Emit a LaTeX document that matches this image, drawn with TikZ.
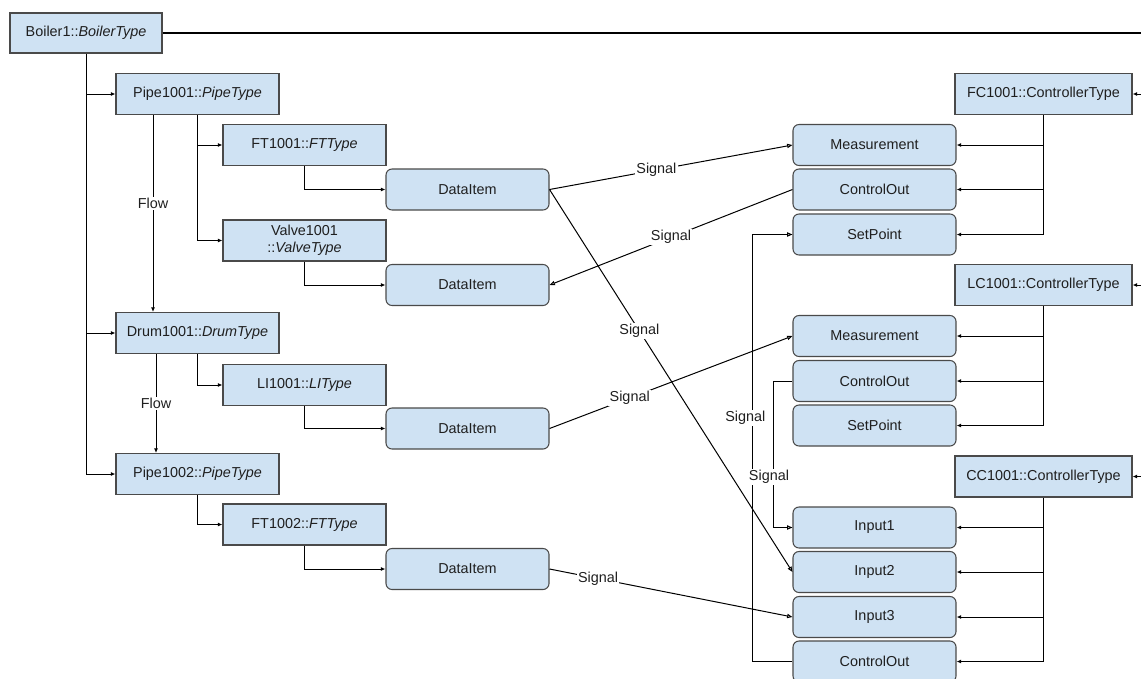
\documentclass[tikz,border=0pt]{standalone}
\usepackage{fontspec}
\setmainfont{Liberation Sans}
\usetikzlibrary{arrows.meta}
\definecolor{boxfill}{HTML}{CFE2F3}
\definecolor{boxline}{HTML}{4A4A4A}
\definecolor{inktext}{HTML}{1F1F1F}
\begin{document}
\begin{tikzpicture}[x=0.75pt,y=-0.75pt,
  font=\fontsize{10.8}{12.6}\selectfont, text=inktext,
  objbox/.style={draw=boxline, fill=boxfill, line width=0.8pt, inner sep=0pt,
    minimum width=122.25pt, minimum height=30.75pt, align=center},
  ctrlbox/.style={objbox, minimum width=132.75pt},
  portbox/.style={objbox, rounded corners=4.5pt},
  link/.style={line width=0.75pt, draw=black, -{Latex[length=3.5pt,width=3pt]}},
  plain/.style={line width=0.75pt, draw=black},
  sig/.style={line width=0.75pt, draw=black, -{Triangle[open,length=4pt,width=3.2pt]}},
  lbl/.style={fill=white, inner sep=1pt, text=inktext}]
\useasboundingbox (0,0) rectangle (1141,678);
\clip (0,0) rectangle (1141,678);

% plant hierarchy
\node[objbox, minimum width=114pt, minimum height=30pt] (boiler) at (86,33) {Boiler1::\textit{BoilerType}};
\node[objbox] (pipeA) at (197.5,94) {Pipe1001::\textit{PipeType}};
\node[objbox] (ftA) at (304.5,145) {FT1001::\textit{FTType}};
\node[objbox] (valve) at (304.5,240.5) {Valve1001\\::\textit{ValveType}};
\node[objbox] (drum) at (197.5,333) {Drum1001::\textit{DrumType}};
\node[objbox] (li) at (304.5,385) {LI1001::\textit{LIType}};
\node[objbox] (pipeB) at (197.5,474) {Pipe1002::\textit{PipeType}};
\node[objbox] (ftB) at (304.5,524.5) {FT1002::\textit{FTType}};

% data items
\node[portbox] (diA) at (467.5,189.5) {DataItem};
\node[portbox] (diB) at (467.5,285) {DataItem};
\node[portbox] (diC) at (467.5,428.5) {DataItem};
\node[portbox] (diD) at (467.5,569) {DataItem};

% controllers and their ports
\node[ctrlbox] (fc) at (1043.5,94) {FC1001::ControllerType};
\node[portbox] (fcM) at (874.5,145) {Measurement};
\node[portbox] (fcO) at (874.5,189.5) {ControlOut};
\node[portbox] (fcS) at (874.5,234.5) {SetPoint};

\node[ctrlbox] (lc) at (1043.5,285) {LC1001::ControllerType};
\node[portbox] (lcM) at (874.5,336) {Measurement};
\node[portbox] (lcO) at (874.5,381) {ControlOut};
\node[portbox] (lcS) at (874.5,425.5) {SetPoint};

\node[ctrlbox] (cc) at (1043.5,476.5) {CC1001::ControllerType};
\node[portbox] (ccA) at (874.5,527.5) {Input1};
\node[portbox] (ccB) at (874.5,572) {Input2};
\node[portbox] (ccC) at (874.5,617) {Input3};
\node[portbox] (ccO) at (874.5,661.5) {ControlOut};

% helper coordinates
\coordinate (edgeTop) at (1141,33);
\coordinate (edgeFC) at (1141,94);
\coordinate (edgeLC) at (1141,285);
\coordinate (edgeCC) at (1141,476.5);
\coordinate (trunk) at (86,0);
\coordinate (flowA) at (153,0);
\coordinate (flowB) at (156,0);
\coordinate (busA) at (752,0);
\coordinate (busB) at (773,0);

% boiler trunk and links leaving the page edge
\draw[plain, line width=1.1pt] (boiler.east) -- (edgeTop);
\draw[link] (edgeFC) -- (fc.east);
\draw[link] (edgeLC) -- (lc.east);
\draw[link] (edgeCC) -- (cc.east);

\draw[link] (boiler.south) |- (pipeB.west);
\draw[link] (trunk |- pipeA.west) -- (pipeA.west);
\draw[link] (trunk |- drum.west) -- (drum.west);

% flow between equipment
\draw[link] (flowA |- pipeA.south) -- node[lbl, pos=0.45] {Flow} (flowA |- drum.north);
\draw[link] (flowB |- drum.south) -- node[lbl, pos=0.5] {Flow} (flowB |- pipeB.north);

% containment
\draw[link] (pipeA.south) |- (ftA.west);
\draw[link] (pipeA.south) |- (valve.west);
\draw[link] (drum.south) |- (li.west);
\draw[link] (pipeB.south) |- (ftB.west);
\draw[link] (ftA.south) |- (diA.west);
\draw[link] (valve.south) |- (diB.west);
\draw[link] (li.south) |- (diC.west);
\draw[link] (ftB.south) |- (diD.west);

% controller ports
\draw[link] (fc.south) |- (fcS.east);
\draw[link] (fc.south |- fcM.east) -- (fcM.east);
\draw[link] (fc.south |- fcO.east) -- (fcO.east);
\draw[link] (lc.south) |- (lcS.east);
\draw[link] (lc.south |- lcM.east) -- (lcM.east);
\draw[link] (lc.south |- lcO.east) -- (lcO.east);
\draw[link] (cc.south) |- (ccO.east);
\draw[link] (cc.south |- ccA.east) -- (ccA.east);
\draw[link] (cc.south |- ccB.east) -- (ccB.east);
\draw[link] (cc.south |- ccC.east) -- (ccC.east);

% signals
\draw[sig] (diA.east) -- node[lbl, pos=0.44] {Signal} (fcM.west);
\draw[sig] (fcO.west) -- node[lbl, pos=0.5] {Signal} (diB.east);
\draw[sig] (diA.east) -- node[lbl, pos=0.37] {Signal} (ccB.west);
\draw[sig] (diC.east) -- node[lbl, pos=0.33] {Signal} (lcM.west);
\draw[sig] (diD.east) -- node[lbl, pos=0.2] {Signal} (ccC.west);
\draw[sig] (ccO.west) -- (busA |- ccO.west) -- node[lbl, pos=0.57, xshift=-5pt] {Signal} (busA |- fcS.west) -- (fcS.west);
\draw[sig] (lcO.west) -- (busB |- lcO.west) -- node[lbl, pos=0.655, xshift=-3pt] {Signal} (busB |- ccA.west) -- (ccA.west);
\end{tikzpicture}
\end{document}
